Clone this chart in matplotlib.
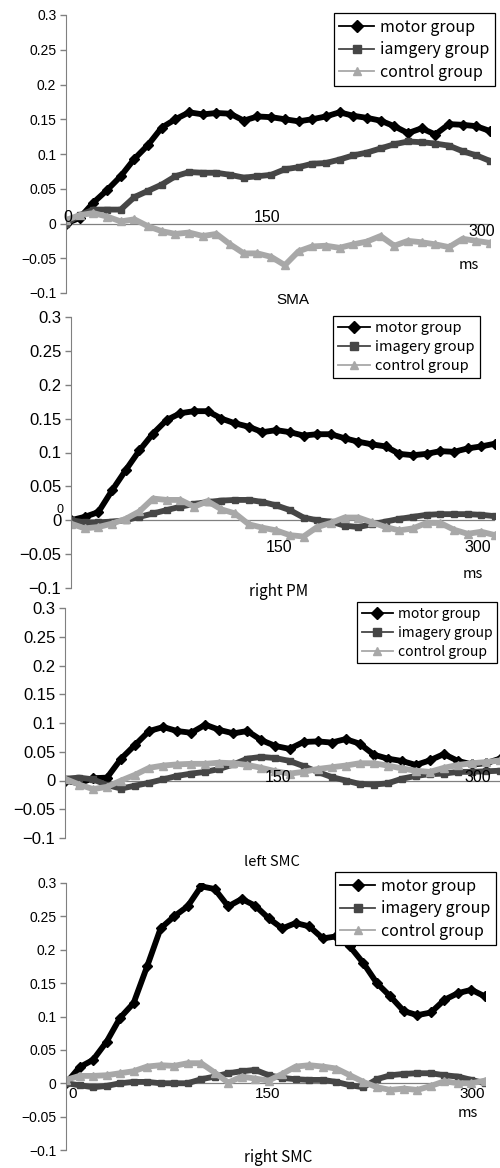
import matplotlib
matplotlib.use("Agg")
import matplotlib.pyplot as plt
from matplotlib.lines import Line2D

# time axis (ms), values read every 10 ms off the original figure
t_ms = list(range(0, 311, 10))

# SMA
sma_motor = [0.0, 0.008, 0.03, 0.048, 0.068, 0.093, 0.113, 0.138, 0.150, 0.160, 0.157,
             0.159, 0.158, 0.148, 0.154, 0.153, 0.150, 0.147, 0.150, 0.154, 0.160, 0.155,
             0.152, 0.148, 0.140, 0.130, 0.137, 0.128, 0.143, 0.142, 0.140, 0.133]
sma_imagery = [0.0, 0.012, 0.02, 0.02, 0.02, 0.038, 0.047, 0.056, 0.068, 0.074, 0.073,
               0.073, 0.070, 0.066, 0.068, 0.070, 0.078, 0.081, 0.086, 0.087, 0.092, 0.098,
               0.102, 0.108, 0.114, 0.118, 0.117, 0.115, 0.112, 0.104, 0.098, 0.090]
sma_control = [0.005, 0.012, 0.015, 0.01, 0.003, 0.006, -0.004, -0.011, -0.015, -0.013, -0.018,
               -0.015, -0.03, -0.043, -0.043, -0.048, -0.06, -0.04, -0.033, -0.032, -0.035, -0.03,
               -0.026, -0.018, -0.032, -0.025, -0.027, -0.03, -0.034, -0.022, -0.025, -0.028]

# right PM
rpm_motor = [0.0, 0.005, 0.012, 0.044, 0.074, 0.103, 0.128, 0.148, 0.158, 0.161, 0.161,
             0.150, 0.143, 0.138, 0.130, 0.133, 0.130, 0.125, 0.127, 0.127, 0.121, 0.116,
             0.112, 0.109, 0.098, 0.096, 0.098, 0.102, 0.101, 0.106, 0.109, 0.113]
rpm_imagery = [0.0, -0.003, -0.003, -0.002, 0.0, 0.005, 0.01, 0.015, 0.02, 0.024, 0.027,
               0.029, 0.030, 0.030, 0.027, 0.022, 0.015, 0.004, 0.0, -0.002, -0.008, -0.01,
               -0.006, -0.002, 0.002, 0.005, 0.008, 0.009, 0.009, 0.009, 0.008, 0.006]
rpm_control = [-0.005, -0.012, -0.010, -0.005, 0.002, 0.013, 0.032, 0.030, 0.030, 0.02, 0.028,
               0.016, 0.01, -0.006, -0.011, -0.015, -0.022, -0.024, -0.01, -0.004, 0.004, 0.004,
               -0.003, -0.01, -0.015, -0.012, -0.004, -0.004, -0.014, -0.02, -0.017, -0.022]

# left SMC
lsmc_motor = [0.0, -0.005, 0.004, 0.005, 0.038, 0.062, 0.086, 0.093, 0.086, 0.083, 0.097,
              0.088, 0.082, 0.086, 0.07, 0.06, 0.055, 0.067, 0.068, 0.066, 0.072, 0.064,
              0.045, 0.038, 0.034, 0.027, 0.035, 0.046, 0.034, 0.028, 0.03, 0.038]
lsmc_imagery = [0.003, 0.005, 0.002, -0.008, -0.014, -0.009, -0.004, 0.002, 0.008, 0.012, 0.015,
                0.02, 0.028, 0.038, 0.041, 0.039, 0.034, 0.025, 0.015, 0.006, 0.0, -0.006,
                -0.007, -0.005, 0.003, 0.008, 0.011, 0.012, 0.015, 0.015, 0.016, 0.017]
lsmc_control = [0.003, -0.007, -0.015, -0.011, 0.0, 0.01, 0.022, 0.026, 0.028, 0.029, 0.029,
                0.031, 0.03, 0.027, 0.022, 0.016, 0.012, 0.015, 0.02, 0.023, 0.026, 0.030,
                0.03, 0.026, 0.021, 0.017, 0.015, 0.022, 0.027, 0.03, 0.032, 0.035]

# right SMC
rsmc_motor = [0.0, 0.024, 0.035, 0.062, 0.098, 0.12, 0.175, 0.232, 0.25, 0.265, 0.295,
              0.291, 0.265, 0.276, 0.266, 0.247, 0.232, 0.24, 0.235, 0.217, 0.22, 0.205,
              0.18, 0.15, 0.13, 0.108, 0.102, 0.106, 0.125, 0.135, 0.14, 0.13]
rsmc_imagery = [0.0, -0.003, -0.006, -0.004, 0.0, 0.002, 0.002, 0.0, 0.0, 0.0, 0.006,
                0.01, 0.015, 0.018, 0.02, 0.012, 0.008, 0.006, 0.005, 0.005, 0.002, -0.003,
                -0.006, 0.006, 0.012, 0.014, 0.015, 0.015, 0.012, 0.01, 0.005, 0.0]
rsmc_control = [0.005, 0.011, 0.011, 0.012, 0.015, 0.018, 0.025, 0.027, 0.026, 0.03, 0.03,
                0.016, 0.001, 0.01, 0.007, 0.004, 0.014, 0.025, 0.027, 0.025, 0.022, 0.012,
                0.002, -0.006, -0.01, -0.008, -0.01, -0.004, 0.003, 0.0, 0.0, 0.004]

ytick_vals = [-0.1, -0.05, 0, 0.05, 0.1, 0.15, 0.2, 0.25, 0.3]
ytick_labels = ["\u22120.1", "\u22120.05", "0", "0.05", "0.1", "0.15", "0.2", "0.25", "0.3"]

W, H = 500, 1168
fig = plt.figure(figsize=(W / 100, H / 100), dpi=100)

NUM_FONT = "Liberation Sans"
TXT_FONT = ["Noto Sans CJK JP", "DejaVu Sans"]
GRAY = "#808080"
styles = [("#000000", "D", 5), ("#464646", "s", 5), ("#a8a8a8", "^", 6)]


def px_text(x, y, s, size, family=NUM_FONT):
    fig.text(x / W, 1 - y / H, s, fontsize=size, family=family, ha="center", va="center")


def panel(box, series, names, leg_box, ysize, leg_size):
    left, top, right, bottom = box
    ax = fig.add_axes([left / W, 1 - bottom / H, (right - left) / W, (bottom - top) / H])
    ax.axhline(0, color=GRAY, lw=0.9, zorder=0.5)
    for vals, (c, m, ms) in zip(series, styles):
        ax.plot(t_ms, vals, color=c, lw=4.2, marker=m, ms=ms, mec=c, mfc=c)
    ax.set_xlim(0, 310)
    ax.set_ylim(-0.1, 0.3)
    ax.set_xticks([])
    ax.set_yticks(ytick_vals)
    ax.set_yticklabels(ytick_labels, fontsize=ysize, family=NUM_FONT)
    ax.tick_params(axis="y", direction="out", length=4, color=GRAY, width=1, pad=3)
    for s in ["top", "right", "bottom"]:
        ax.spines[s].set_visible(False)
    ax.spines["left"].set_color(GRAY)
    ax.patch.set_alpha(0)
    handles = [Line2D([], [], color=c, lw=1.3, marker=m, ms=6, mec=c, mfc=c)
               for c, m, _ in styles]
    leg = ax.legend(handles, names, loc="upper right",
                    bbox_to_anchor=(leg_box[0] / W, 1 - leg_box[1] / H),
                    bbox_transform=fig.transFigure, borderaxespad=0,
                    prop={"family": TXT_FONT, "size": leg_size},
                    frameon=True, fancybox=False, framealpha=1,
                    handlelength=2.2, handletextpad=0.35, labelspacing=0.35,
                    borderpad=0.35)
    leg.get_frame().set_edgecolor("#000000")
    leg.get_frame().set_linewidth(0.9)
    return ax


panel((66, 15, 490, 293), [sma_motor, sma_imagery, sma_control],
      ["motor group", "iamgery group", "control group"], (495, 13), 10, 11.5)
px_text(68, 217, "0", 11.5)
px_text(267, 217, "150", 11.5)
px_text(482, 232, "300", 11.5)
px_text(469, 265, "ms", 10.5, TXT_FONT)
px_text(293, 300, "SMA", 11)

panel((71, 317, 495, 588), [rpm_motor, rpm_imagery, rpm_control],
      ["motor group", "imagery group", "control group"], (480, 316), 12, 10.5)
px_text(60, 510, "0", 9)
px_text(279, 547, "150", 11.5)
px_text(478, 547, "300", 11.5)
px_text(473, 574, "ms", 10.5, TXT_FONT)
px_text(279, 592, "right PM", 11, TXT_FONT)

panel((65, 608, 500, 838), [lsmc_motor, lsmc_imagery, lsmc_control],
      ["motor group", "imagery group", "control group"], (497, 602), 12, 10)
px_text(278, 777, "150", 11.5)
px_text(478, 777, "300", 11.5)
px_text(272, 862, "left SMC", 10.5, TXT_FONT)

panel((66, 883, 485, 1150), [rsmc_motor, rsmc_imagery, rsmc_control],
      ["motor group", "imagery group", "control group"], (496, 872), 10, 11.5)
px_text(73, 1094, "0", 11)
px_text(268, 1094, "150", 11)
px_text(472, 1094, "300", 11)
px_text(468, 1113, "ms", 10.5, TXT_FONT)
px_text(278, 1157, "right SMC", 11, TXT_FONT)

fig.savefig("out.png", dpi=100)
